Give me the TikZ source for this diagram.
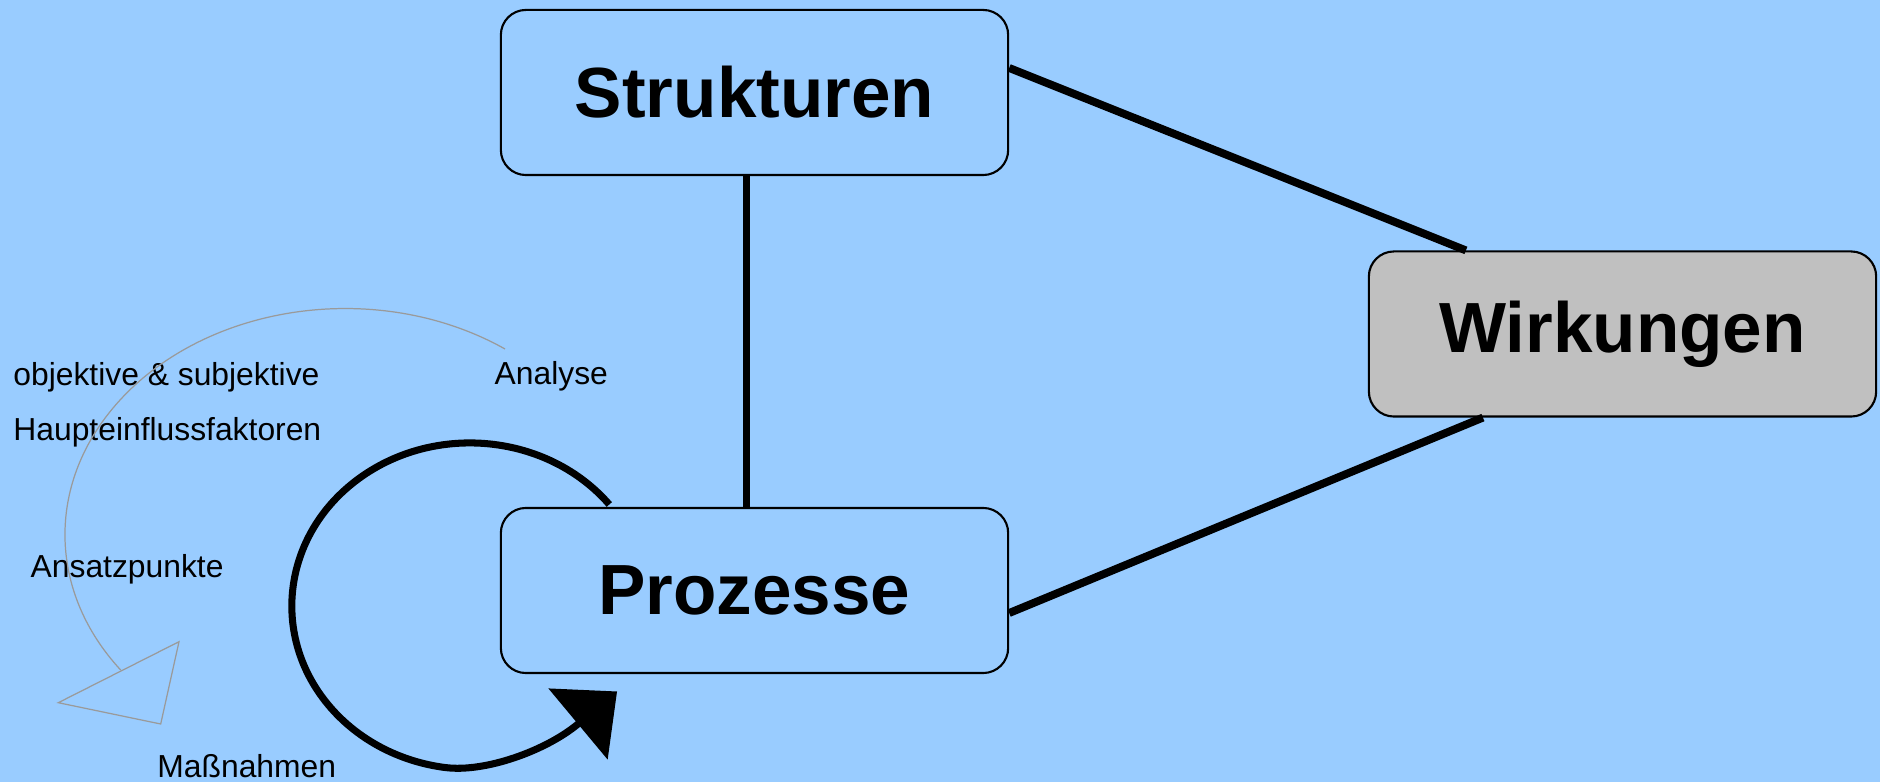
\documentclass[tikz,border=0pt]{standalone}
\usepackage{fontspec}
\setmainfont{Liberation Sans}
\usetikzlibrary{arrows.meta}
\definecolor{bgblue}{HTML}{99CCFF}
\definecolor{boxgray}{HTML}{C0C0C0}
\definecolor{thingray}{HTML}{9A9A9A}
\begin{document}
\begin{tikzpicture}[x=0.01cm,y=0.01cm,
  mainbox/.style={draw=black, line width=0.6pt, rounded corners=0.25cm,
    minimum width=5.07cm, minimum height=1.65cm, inner sep=0pt,
    font=\fontsize{20.2pt}{24pt}\selectfont\bfseries},
  link/.style={line width=2.25pt},
  lbl/.style={anchor=base west, inner sep=0pt, font=\fontsize{9.05pt}{11pt}\selectfont},
  loopline/.style={line width=2pt},
  hintline/.style={draw=thingray, line width=0.35pt, line join=miter}]
\fill[bgblue] (0,0) rectangle (1880,782);
\useasboundingbox (0,0) rectangle (1880,782);

% main boxes
\node[mainbox, fill=bgblue] (S) at (754.5,689.5) {Strukturen};
\node[mainbox, fill=bgblue] (P) at (754.5,191.5) {Prozesse};
\node[mainbox, fill=boxgray] (W) at (1622.5,448) {Wirkungen};

% connectors
\draw[link] ([xshift=-0.08cm]S.south) -- ([xshift=-0.08cm]P.north);
\draw[link] ([yshift=0.245cm]S.east) -- ([xshift=-1.565cm]W.north);
\draw[link] ([yshift=-0.225cm]P.east) -- ([xshift=-1.395cm]W.south);

% labels
\node[lbl] (l1) at (12.7,396) {objektive \& subjektive};
\node[lbl] (l2) at (12.7,341.3) {Haupteinflussfaktoren};
\node[lbl] (l3) at (494,397) {Analyse};
\node[lbl] (l4) at (30,205) {Ansatzpunkte};
\node[lbl] (l5) at (156.7,5) {Maßnahmen};

% thin gray cycle arrow
\coordinate (G0) at (505,433);
\draw[hintline]
  (G0) arc[start angle=55.2, end angle=216.8, x radius=2.8cm, y radius=2.26cm];
\coordinate (GA) at (179,140.3);
\coordinate (GB) at (58.3,79.3);
\coordinate (GC) at (160.7,58);
\draw[hintline] (GA) -- (GB) -- (GC) -- cycle;

% black loop arrow
\coordinate (LA) at (609.3,277.5);
\coordinate (LE) at (578,58);
\draw[loopline, -{Triangle[width=0.91cm, length=0.508cm]}]
  (LA) arc[start angle=38.5, end angle=262, x radius=1.78cm, y radius=1.63cm]
  to[out=-7.3, in=219.8, looseness=0.75] (LE) -- ++(39.8:0.508cm);
\end{tikzpicture}
\end{document}
